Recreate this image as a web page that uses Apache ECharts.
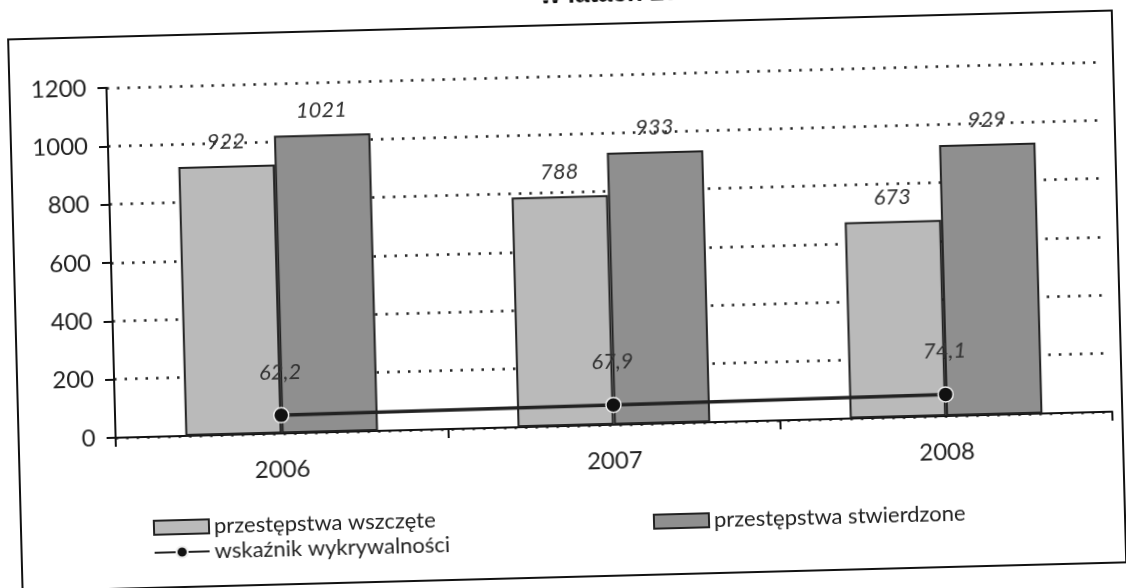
<!DOCTYPE html>
<html>
<head>
<meta charset="utf-8">
<script src="https://cdn.jsdelivr.net/npm/echarts@6/dist/echarts.min.js"></script>
<style>
html,body{margin:0;padding:0;background:#fff;overflow:hidden;}
#chart{width:1126px;height:588px;transform:rotate(-1.5deg);transform-origin:563px 294px;}
</style>
</head>
<body>
<div id="chart"></div>
<script>
const categories = ['2006', '2007', '2008'];
const wszczete = [922, 788, 673];
const stwierdzone = [1021, 933, 929];
const wskaznik = [62.2, 67.9, 74.1];
const seriesNames = ['przestępstwa wszczęte', 'przestępstwa stwierdzone', 'wskaźnik wykrywalności'];
const titleText = 'w latach 2006 - 2008';

const FONT = 'Lato, "Open Sans", sans-serif';
const chart = echarts.init(document.getElementById('chart'), null, {renderer: 'canvas'});

const fmtComma = p => String(p.value).replace('.', ',');
const barLabel = {
  show: true, position: 'top', distance: 13,
  fontFamily: FONT, fontStyle: 'italic', fontSize: 22, color: '#333'
};
const legendText = {fontFamily: FONT, fontSize: 22, color: '#222'};

chart.setOption({
  backgroundColor: '#fff',
  animation: false,
  graphic: [
    {type: 'rect', z: -1, shape: {x: 15, y: 25, width: 1104, height: 552},
     style: {fill: 'none', stroke: '#111', lineWidth: 2}},
    {type: 'text', x: 548, y: 9, style: {text: titleText, textVerticalAlign: 'bottom',
      font: 'bold 26px "Liberation Sans", sans-serif', fill: '#111'}}
  ],
  grid: {left: 112, right: 17, top: 76, bottom: 162, containLabel: false},
  legend: [
    {data: [{name: seriesNames[0], icon: 'rect'}], left: 142, top: 501, itemWidth: 55, itemHeight: 14, itemGap: 0,
     textStyle: legendText},
    {data: [{name: seriesNames[1], icon: 'rect'}], left: 642, top: 508, itemWidth: 55, itemHeight: 14, itemGap: 0,
     textStyle: legendText},
    {data: [seriesNames[2]], left: 142, top: 526, itemWidth: 55, itemHeight: 14, itemGap: 0,
     textStyle: legendText}
  ],
  xAxis: {
    type: 'category', data: categories,
    axisLine: {lineStyle: {color: '#111', width: 2}},
    axisTick: {show: true, length: 9, lineStyle: {color: '#111', width: 2}},
    axisLabel: {fontFamily: FONT, fontSize: 24, color: '#222', margin: 24}
  },
  yAxis: {
    type: 'value', min: 0, max: 1200, interval: 200,
    axisLine: {show: true, lineStyle: {color: '#111', width: 2}},
    axisTick: {show: true, length: 9, lineStyle: {color: '#111', width: 2}},
    axisLabel: {fontFamily: FONT, fontSize: 24, color: '#222', margin: 20, formatter: v => String(v)},
    splitLine: {show: true, lineStyle: {color: '#222', width: 2.5, type: [2.5, 8]}}
  },
  series: [
    {name: seriesNames[0], type: 'bar', data: wszczete, barGap: '0%', barCategoryGap: '42%',
     itemStyle: {color: '#bababa', borderColor: '#222', borderWidth: 2},
     label: barLabel},
    {name: seriesNames[1], type: 'bar', data: stwierdzone, barGap: '0%', barCategoryGap: '42%',
     itemStyle: {color: '#8f8f8f', borderColor: '#222', borderWidth: 2},
     label: barLabel},
    {name: seriesNames[2], type: 'line', data: wskaznik, z: 5,
     symbol: 'circle', symbolSize: 15,
     lineStyle: {color: '#222', width: 3.5},
     itemStyle: {color: '#111', borderColor: '#eee', borderWidth: 1.5},
     label: {show: true, position: 'top', distance: 24, formatter: fmtComma,
       fontFamily: FONT, fontStyle: 'italic', fontSize: 22, color: '#333'}}
  ]
});
</script>
</body>
</html>
